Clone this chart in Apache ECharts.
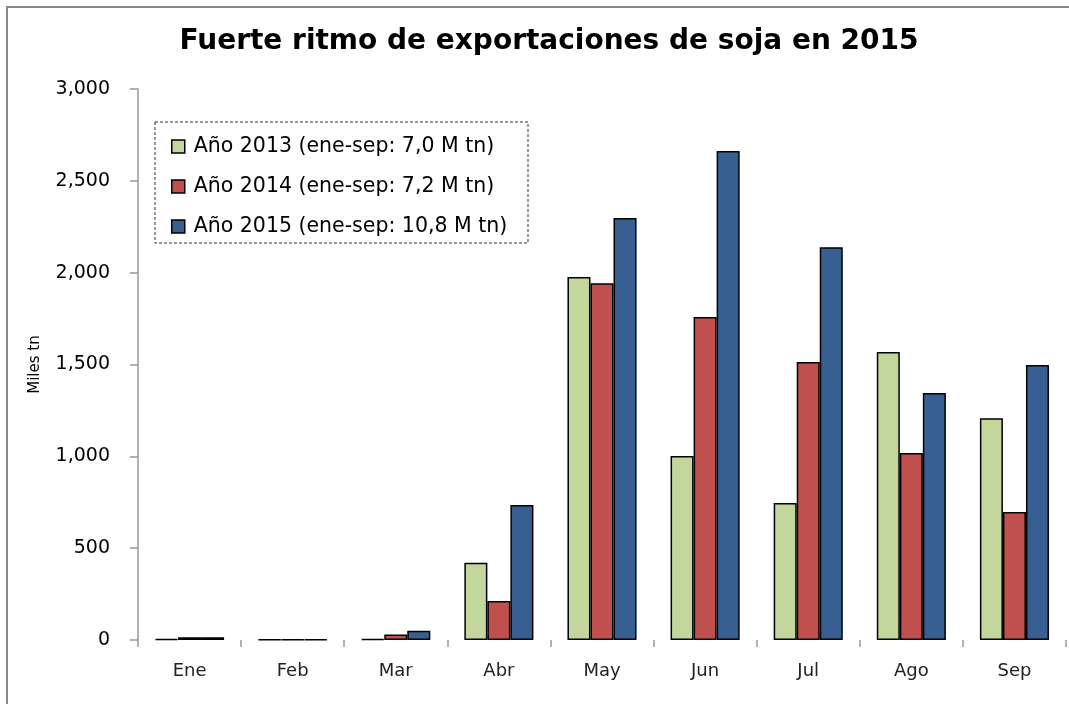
<!DOCTYPE html>
<html>
<head>
<meta charset="utf-8">
<script src="https://cdn.jsdelivr.net/npm/echarts@6/dist/echarts.min.js"></script>
<style>html,body{margin:0;padding:0;background:#fff;}#c{width:1069px;height:704px;}</style>
</head>
<body>
<div id="c"></div>
<script>
const categories = ['Ene','Feb','Mar','Abr','May','Jun','Jul','Ago','Sep'];
const seriesNames = ['Año 2013 (ene-sep: 7,0 M tn)','Año 2014 (ene-sep: 7,2 M tn)','Año 2015 (ene-sep: 10,8 M tn)'];
const y2013 = [5, 3, 5, 420, 1976, 1002, 746, 1568, 1208];
const y2014 = [15, 3, 30, 212, 1943, 1758, 1513, 1018, 697];
const y2015 = [15, 3, 50, 735, 2297, 2662, 2139, 1345, 1497];
const colors = ['#c3d69b', '#c0504d', '#375f91'];
const yTicks = [0, 500, 1000, 1500, 2000, 2500, 3000];

const font = '"DejaVu Sans", sans-serif';
const chart = echarts.init(document.getElementById('c'));
const mk = (name, data, i) => ({
  name, type: 'bar', data,
  barGap: '0%', barCategoryGap: '33%',
  itemStyle: { color: colors[i], borderColor: '#000', borderWidth: 1.5 },
  emphasis: { disabled: true }
});
chart.setOption({
  animation: false,
  backgroundColor: '#fff',
  title: {
    text: 'Fuerte ritmo de exportaciones de soja en 2015',
    left: 544, top: 23, textAlign: 'center',
    textStyle: { fontFamily: font, fontSize: 28, fontWeight: 'bold', color: '#000' }
  },
  graphic: [
    { type: 'rect', shape: { x: 7, y: 7, width: 1080, height: 720 }, style: { fill: 'none', stroke: '#888', lineWidth: 2 }, silent: true },
    { type: 'rect', shape: { x: 155, y: 122, width: 373, height: 121 }, style: { fill: 'none', stroke: '#333', lineWidth: 1, lineDash: [3, 2] }, silent: true }
  ],
  legend: {
    left: 166, top: 131, orient: 'vertical', itemGap: 19,
    itemWidth: 13, itemHeight: 13, icon: 'rect',
    itemStyle: { borderColor: '#000', borderWidth: 1.5 },
    textStyle: { fontFamily: font, fontSize: 20.5, color: '#000', padding: [0, 0, 0, 4] },
    data: seriesNames
  },
  grid: { left: 138, right: 3, top: 89, bottom: 64 },
  xAxis: {
    type: 'category', data: categories,
    axisLine: { show: false },
    axisTick: { show: true, length: 7, lineStyle: { color: '#999', width: 1.5 } },
    axisLabel: { fontFamily: font, fontSize: 18, color: '#222', margin: 22 }
  },
  yAxis: {
    type: 'value', min: 0, max: 3000, interval: 500,
    name: 'Miles tn', nameLocation: 'middle', nameGap: 95,
    nameTextStyle: { fontFamily: font, fontSize: 15, color: '#000' },
    axisLine: { show: true, lineStyle: { color: '#999', width: 1.5 } },
    axisTick: { show: true, length: 8, lineStyle: { color: '#999', width: 1.5 } },
    splitLine: { show: false },
    axisLabel: {
      fontFamily: font, fontSize: 19, color: '#000', margin: 28,
      formatter: v => yTicks.includes(v) ? v.toLocaleString('en-US') : ''
    }
  },
  series: [mk(seriesNames[0], y2013, 0), mk(seriesNames[1], y2014, 1), mk(seriesNames[2], y2015, 2)]
});
</script>
</body>
</html>
